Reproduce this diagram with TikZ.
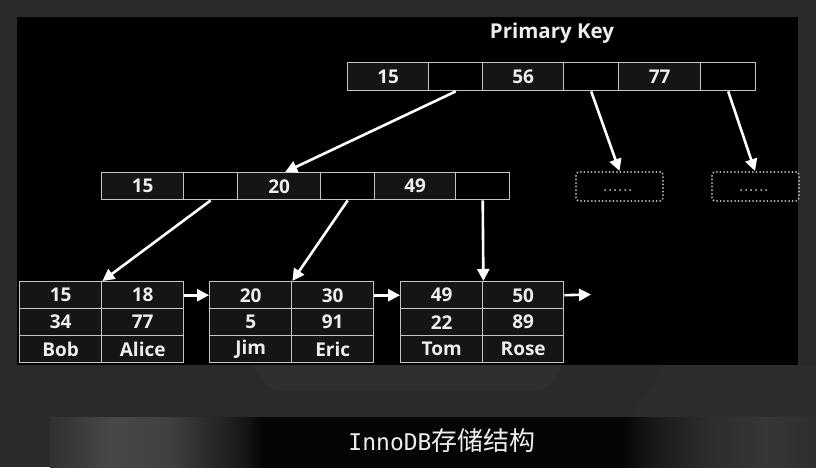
\documentclass[tikz,border=0pt]{standalone}
\usepackage{fontspec}
\setmainfont{Open Sans}
\newfontfamily\cjkfont{Noto Sans CJK SC}
\newfontfamily\capmono{DejaVu Sans Mono}
\usetikzlibrary{arrows.meta}
\definecolor{bg}{HTML}{2A2A2A}
\definecolor{bglight}{HTML}{2F2F2F}
\definecolor{bgarc}{HTML}{2D2D2D}
\definecolor{edge}{HTML}{C4C4C4}
\definecolor{keyfill}{HTML}{151515}
\definecolor{txt}{HTML}{EDEDED}
\definecolor{sA}{HTML}{303030}
\definecolor{sB}{HTML}{484848}
\definecolor{sC}{HTML}{404040}
\definecolor{sD}{HTML}{161616}
\definecolor{sE}{HTML}{050505}
\definecolor{sF}{HTML}{1A1A1A}
\definecolor{sG}{HTML}{2C2C2C}
\definecolor{sH}{HTML}{363636}
\definecolor{sI}{HTML}{2E2E2E}
\tikzset{
  cellbase/.style={draw=edge, line width=1.4pt, anchor=north west, inner sep=0pt,
    text=txt, font=\bfseries\fontsize{19}{19}\selectfont},
  kc/.style={cellbase, fill=keyfill, minimum height=28pt},
  pc/.style={cellbase, fill=black, minimum height=28pt},
  lc/.style={cellbase, fill=keyfill, minimum height=27pt, minimum width=82pt},
  dbox/.style={draw=edge, line width=2pt, dash pattern=on 0pt off 3.6pt, line cap=round,
    rounded corners=3pt, anchor=north west, inner sep=0pt, minimum width=87pt, minimum height=29pt},
  dotrow/.style={draw=edge, line width=2pt, dash pattern=on 0pt off 5pt, line cap=round},
  arr/.style={draw=white, line width=2.6pt, -{Triangle[length=12pt,width=12pt]}},
}
\begin{document}
\begin{tikzpicture}[x=1pt,y=-1pt]
\useasboundingbox (0,0) rectangle (816,467);
% background
\fill[bg] (0,0) rectangle (816,467);
\fill[bglight] (250,360) -- (562,360) -- (556,378) to[out=-110,in=0] (520,390) -- (300,390) to[out=180,in=-70] (262,378) -- cycle;
\fill[bgarc] (662,365) to[out=-105,in=65] (632,417) -- (816,417) -- (816,365) -- cycle;
% black panel
\fill[black] (17,17) rectangle (798,365);
% caption strip
\shade[left color=sA, right color=sB] (50,417) rectangle (110.5,470);
\shade[left color=sB, right color=sC] (110,417) rectangle (170.5,470);
\shade[left color=sC, right color=sD] (170,417) rectangle (245.5,470);
\shade[left color=sD, right color=sE] (245,417) rectangle (262.5,470);
\fill[sE] (262,417) rectangle (622,470);
\shade[left color=sE, right color=sF] (621.5,417) rectangle (655.5,470);
\shade[left color=sF, right color=sG] (655,417) rectangle (705.5,470);
\shade[left color=sG, right color=sH] (705,417) rectangle (765.5,470);
\shade[left color=sH, right color=sI] (765,417) rectangle (818,470);
\node[text=txt, inner sep=0pt] (cap) at (442,441)
  {\capmono\fontsize{23}{23}\selectfont InnoDB\cjkfont\fontsize{26}{26}\selectfont 存储结构};

% title
\node[text=txt, inner sep=0pt, font=\bfseries\fontsize{20.5}{20.5}\selectfont] (title) at (552,33) {Primary Key};

% root row
\node[kc, minimum width=81pt] (t1) at (347,62) {15};
\node[pc, minimum width=54pt] (t2) at (428,62) {};
\node[kc, minimum width=81pt] (t3) at (482,62) {56};
\node[pc, minimum width=55pt] (t4) at (563,62) {};
\node[kc, minimum width=82pt] (t5) at (618,62) {77};
\node[pc, minimum width=55pt] (t6) at (700,62) {};

% dashed children
\node[dbox] (d1) at (575,171) {};
\node[dbox] (d2) at (711,171) {};
\draw[dotrow] ([xshift=-14.5pt,yshift=-3.5pt]d1.center) -- ([xshift=14.6pt,yshift=-3.5pt]d1.center);
\draw[dotrow] ([xshift=-14.5pt,yshift=-3.5pt]d2.center) -- ([xshift=14.6pt,yshift=-3.5pt]d2.center);

% middle row
\node[kc, minimum width=82pt, minimum height=27pt] (m1) at (101,172) {15};
\node[pc, minimum width=54pt, minimum height=27pt] (m2) at (183,172) {};
\node[kc, minimum width=83pt, minimum height=27pt] (m3) at (237,172) {20};
\node[pc, minimum width=54pt, minimum height=27pt] (m4) at (320,172) {};
\node[kc, minimum width=81pt, minimum height=27pt] (m5) at (374,172) {49};
\node[pc, minimum width=54pt, minimum height=27pt] (m6) at (455,172) {};

% leaf 1
\node[lc] (a1) at (19,281) {15};
\node[lc] (a2) at (101,281) {18};
\node[lc] (a3) at (19,308) {34};
\node[lc] (a4) at (101,308) {77};
\node[lc] (a5) at (19,335) {Bob};
\node[lc] (a6) at (101,335) {Alice};
% leaf 2
\node[lc] (b1) at (209,281) {20};
\node[lc] (b2) at (291,281) {30};
\node[lc] (b3) at (209,308) {5};
\node[lc] (b4) at (291,308) {91};
\node[lc] (b5) at (209,335) {Jim};
\node[lc] (b6) at (291,335) {Eric};
% leaf 3
\node[lc] (c1) at (400,281) {49};
\node[lc, minimum width=81pt] (c2) at (482,281) {50};
\node[lc] (c3) at (400,308) {22};
\node[lc, minimum width=81pt] (c4) at (482,308) {89};
\node[lc] (c5) at (400,335) {Tom};
\node[lc, minimum width=81pt] (c6) at (482,335) {Rose};

\coordinate (nextleaf) at (591,294.5);

% connectors
\draw[arr] (t2.south) -- ([xshift=6pt]m3.north);
\draw[arr] (t4.south) -- (d1.north);
\draw[arr] (t6.south) -- ([xshift=-0.5pt]d2.north);
\draw[arr] (m2.south) -- (a1.north east);
\draw[arr] (m4.south) -- (b1.north east);
\draw[arr] (m6.south) -- (c1.north east);
\draw[arr] (a2.east) -- (b1.west);
\draw[arr] (b2.east) -- (c1.west);
\draw[arr] (c2.east) -- (nextleaf);
\end{tikzpicture}
\end{document}
